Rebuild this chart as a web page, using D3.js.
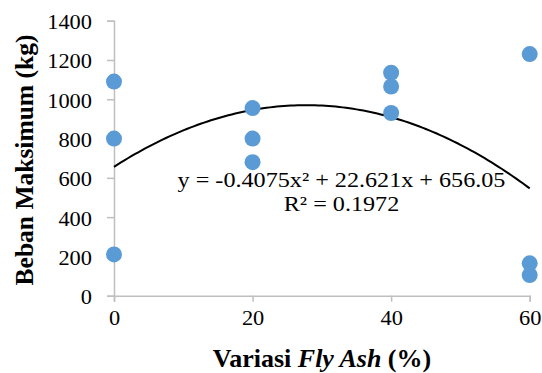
<!DOCTYPE html>
<html>
<head>
<meta charset="utf-8">
<script src="https://cdn.jsdelivr.net/npm/d3@7"></script>
<style>
  body { margin: 0; background: #fff; }
  svg text { font-family: "Liberation Serif", "Times New Roman", serif; }
</style>
</head>
<body>
<div id="chart"></div>
<script>
// DATA
var xValues = [0, 0, 0, 20, 20, 20, 40, 40, 40, 60, 60, 60];
var yValues = [1090, 800, 210, 955, 800, 680, 1135, 1065, 930, 1230, 165, 105];
var xTicks = [0, 20, 40, 60];
var yTicks = [0, 200, 400, 600, 800, 1000, 1200, 1400];
var trendCoef = [-0.4075, 22.621, 656.05]; // a, b, c of y = ax^2 + bx + c
var trendLabel = ["y = -0.4075x\u00B2 + 22.621x + 656.05", "R\u00B2 = 0.1972"];

var W = 542, H = 373;
var margin = {top: 20.7, right: 12.3, bottom: 77.3, left: 114};
var width = W - margin.left - margin.right,
    height = H - margin.top - margin.bottom;

//the original picture is a little wider than tall, so text is stretched sideways
function stretch(sel, k) {
  sel.each(function() {
    var len = this.getComputedTextLength();
    d3.select(this)
      .attr("textLength", len * k)
      .attr("lengthAdjust", "spacingAndGlyphs");
  });
}

var svg = d3.select("#chart").append("svg")
  .attr("width", W)
  .attr("height", H);

var g = svg.append("g")
  .attr("transform", `translate(${margin.left}, ${margin.top})`);

var xScale = d3.scaleLinear().domain([0, 60]).range([0, width]);
var yScale = d3.scaleLinear().domain([0, 1400]).range([height, 0]);

var axisColor = "#bfbfbf";

//Y AXIS
var yAxis = d3.axisLeft(yScale).tickValues(yTicks).tickFormat(d3.format("d"))
  .tickSize(7).tickPadding(15);
var gy = g.append("g").call(yAxis);
gy.select(".domain").attr("stroke", axisColor).attr("stroke-width", 1.5);
gy.selectAll(".tick line").attr("stroke", axisColor).attr("stroke-width", 1.5);
gy.selectAll("text").attr("fill", "#000").style("font-size", "20px")
  .attr("dy", "0.4em")
  .call(stretch, 1.12);

//X AXIS
var xAxis = d3.axisBottom(xScale).tickValues(xTicks).tickFormat(d3.format("d"))
  .tickSize(6).tickPadding(9);
var gx = g.append("g").attr("transform", `translate(0, ${height})`).call(xAxis);
gx.select(".domain").attr("stroke", axisColor).attr("stroke-width", 1.5);
gx.selectAll(".tick line").attr("stroke", axisColor).attr("stroke-width", 1.5);
gx.selectAll("text").attr("fill", "#000").style("font-size", "20px")
  .call(stretch, 1.12);

//TREND LINE
var trendPts = d3.range(0, 60.01, 0.5).map(function(x) {
  return [x, trendCoef[0] * x * x + trendCoef[1] * x + trendCoef[2]];
});
g.append("path")
  .datum(trendPts)
  .attr("fill", "none")
  .attr("stroke", "#000")
  .attr("stroke-width", 2)
  .attr("d", d3.line().x(function(d) { return xScale(d[0]); }).y(function(d) { return yScale(d[1]); }));

//POINTS
g.selectAll("circle.pt")
  .data(xValues.map(function(x, i) { return [x, yValues[i]]; }))
  .enter().append("circle")
  .attr("class", "pt")
  .attr("cx", function(d) { return xScale(d[0]); })
  .attr("cy", function(d) { return yScale(d[1]); })
  .attr("r", 8)
  .attr("fill", "#5b9bd5");

//TREND LABEL
svg.selectAll("text.trend")
  .data(trendLabel)
  .enter().append("text")
  .attr("class", "trend")
  .attr("x", 341.5)
  .attr("y", function(d, i) { return 187 + i * 24; })
  .attr("text-anchor", "middle")
  .style("font-size", "21px")
  .text(function(d) { return d; })
  .call(stretch, 1.15);

//AXIS TITLES
svg.append("text")
  .attr("transform", "translate(33, 160) rotate(-90)")
  .attr("text-anchor", "middle")
  .style("font-size", "25.5px")
  .style("font-weight", "bold")
  .text("Beban Maksimum (kg)");

var xt = svg.append("text")
  .attr("x", 322).attr("y", 367)
  .attr("text-anchor", "middle")
  .style("font-size", "26px")
  .style("font-weight", "bold");
xt.append("tspan").text("Variasi ");
xt.append("tspan").style("font-style", "italic").text("Fly Ash");
xt.append("tspan").text(" (%)");
</script>
</body>
</html>
